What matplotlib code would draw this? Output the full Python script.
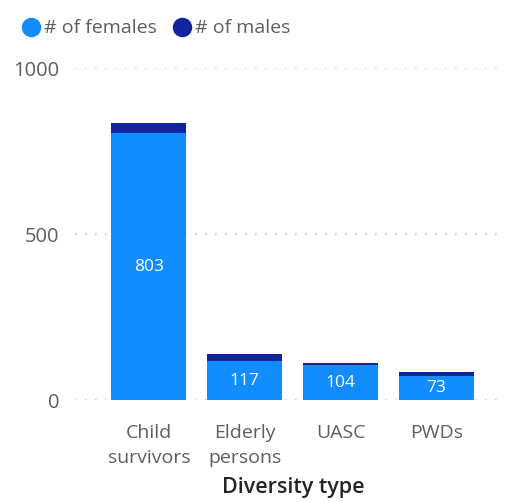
import matplotlib
matplotlib.use("Agg")
import matplotlib.pyplot as plt
from matplotlib.lines import Line2D

categories = ["Child\nsurvivors", "Elderly\npersons", "UASC", "PWDs"]
females = [803, 117, 104, 73]
males = [31, 21, 8, 10]
yticks = [0, 500, 1000]

plt.rcParams['font.family'] = ['Open Sans', 'DejaVu Sans']

fig = plt.figure(figsize=(5.17, 5.01), dpi=100)
ax = fig.add_axes([75/517, 1-400/501, (500-75)/517, (400-68)/501])

c_f = "#118DFF"
c_m = "#12239E"
x = list(range(len(categories)))
ax.bar(x, females, width=0.78, color=c_f, zorder=3)
ax.bar(x, males, bottom=females, width=0.78, color=c_m, zorder=3)
for xi, v in zip(x, females):
    ax.text(xi, v/2, str(v), ha='center', va='center', color='white', fontsize=12.5, zorder=4)

ax.set_xlim(-0.77, 3.66)
ax.set_ylim(0, 1000)
ax.set_yticks(yticks)
ax.set_yticklabels([str(t) for t in yticks])
ax.set_xticks(x)
ax.set_xticklabels(categories, fontsize=14, color="#605E5C")
for lbl in ax.get_xticklabels():
    lbl.set_linespacing(1.55)
ax.tick_params(axis='y', labelsize=14.5, labelcolor="#605E5C", length=0, pad=11)
ax.tick_params(axis='x', length=0, pad=17)
ax.grid(axis='y', color="#C8C6C4", linestyle=(0, (1, 5)), linewidth=1.2, zorder=0)
for s in ax.spines.values():
    s.set_visible(False)
fig.text(293/517, 1-493/501, "Diversity type", fontsize=15.5, color="#252423",
         fontweight='semibold', ha='center', va='baseline')

handles = [Line2D([], [], marker='o', linestyle='', markersize=13, color=c_f),
           Line2D([], [], marker='o', linestyle='', markersize=13, color=c_m)]
fig.legend(handles, ["# of females", "# of males"], loc='upper left', bbox_to_anchor=(-0.015, 1.0),
           ncol=2, frameon=False, handletextpad=-0.35, columnspacing=0.3, fontsize=14,
           labelcolor="#605E5C", borderaxespad=0.6)

fig.savefig("out.png", dpi=100)
